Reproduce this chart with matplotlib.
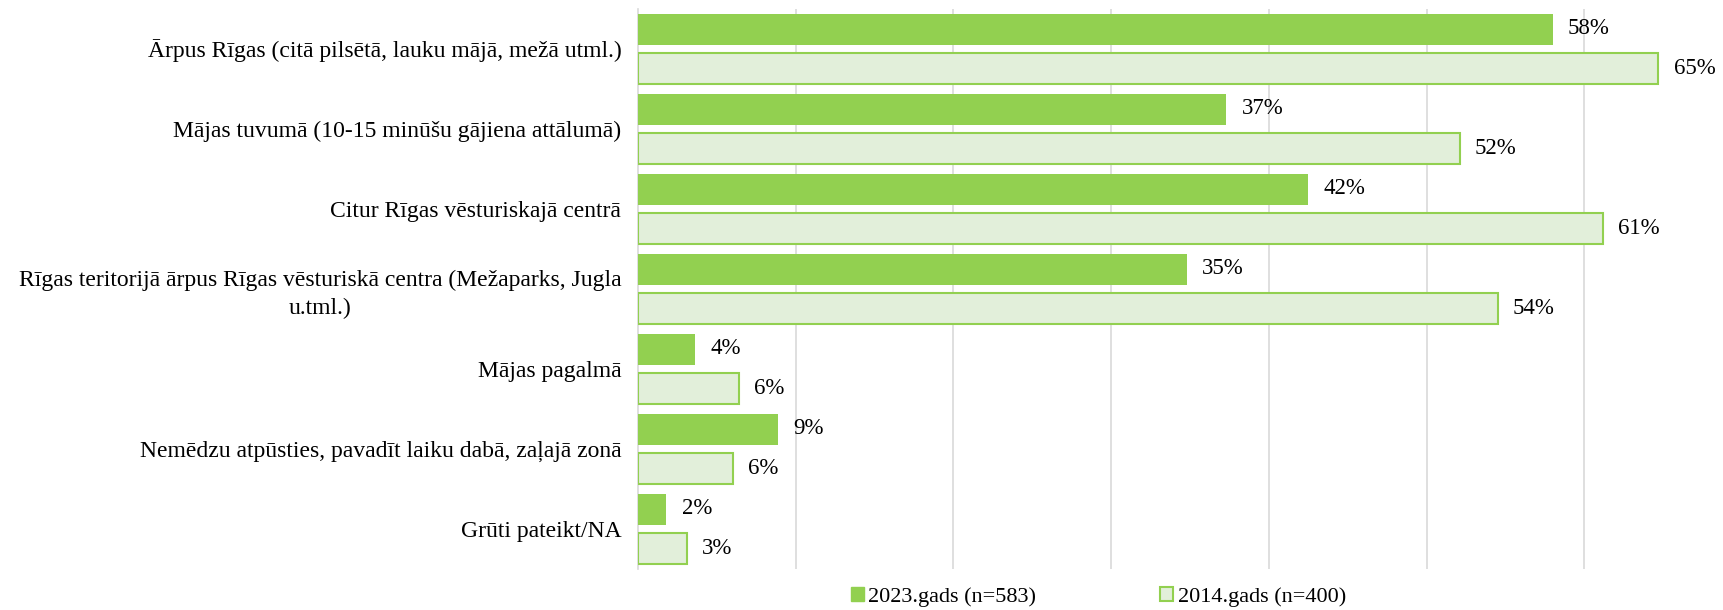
import numpy as np
import matplotlib.pyplot as plt
from matplotlib.patches import Patch

plt.rcParams['font.family'] = ['Liberation Serif', 'DejaVu Serif']

categories = [
    "Ārpus Rīgas (citā pilsētā, lauku mājā, mežā utml.)",
    "Mājas tuvumā (10-15 minūšu gājiena attālumā)",
    "Citur Rīgas vēsturiskajā centrā",
    "Rīgas teritorijā ārpus Rīgas vēsturiskā centra (Mežaparks, Jugla\nu.tml.)",
    "Mājas pagalmā",
    "Nemēdzu atpūsties, pavadīt laiku dabā, zaļajā zonā",
    "Grūti pateikt/NA",
]
vals_2023 = [58.0, 37.3, 42.5, 34.8, 3.6, 8.9, 1.8]
vals_2014 = [64.7, 52.1, 61.2, 54.5, 6.4, 6.0, 3.1]
series_names = ["2023.gads (n=583)", "2014.gads (n=400)"]

green = "#92D050"
light = "#E2EFDA"
grid_c = "#D9D9D9"

W, H = 1724, 610
fig = plt.figure(figsize=(W / 100, H / 100), dpi=100)
x0, x1 = 638, 1742
ytop, ybot = 8.5, 568.5
ax = fig.add_axes([x0 / W, 1 - ybot / H, (x1 - x0) / W, (ybot - ytop) / H])

y = np.arange(len(categories))
bh = 31 / 80
off = 39 / 80 / 2
ax.barh(y - off, vals_2023, height=bh, color=green, zorder=3)
ax.barh(y + off, vals_2014, height=bh, color=light, edgecolor=green, linewidth=1.5, zorder=3)

for yy, v in zip(y - off, vals_2023):
    ax.annotate(f"{round(v)}%", (v, yy), xytext=(11, 0), textcoords="offset points",
                ha="left", va="center", fontsize=16.5)
for yy, v in zip(y + off, vals_2014):
    ax.annotate(f"{round(v)}%", (v, yy), xytext=(11, 0), textcoords="offset points",
                ha="left", va="center", fontsize=16.5)

ax.set_xlim(0, 70)
ax.set_ylim(len(categories) - 0.5, -0.5)
ax.set_xticks(np.arange(10, 71, 10))
ax.set_xticklabels([])
ax.tick_params(axis="x", length=0)
ax.grid(axis="x", color=grid_c, linewidth=1.2, zorder=0)
ax.set_yticks(y)
ax.set_yticklabels(categories, fontsize=17, multialignment="center", linespacing=1.45)
ax.tick_params(axis="y", length=0, pad=12)
for s in ["top", "right", "bottom"]:
    ax.spines[s].set_visible(False)
ax.spines["left"].set_color(grid_c)
ax.spines["left"].set_linewidth(1.2)

handles = [Patch(facecolor=green, edgecolor=green),
           Patch(facecolor=light, edgecolor=green, linewidth=1.5)]
fig.legend(handles, series_names, loc="center", bbox_to_anchor=(0.637, 1 - 597 / H),
           ncol=2, frameon=False, fontsize=16, handlelength=0.6, handleheight=0.6,
           handletextpad=0.2, columnspacing=5.55)

fig.savefig("out.png", dpi=100)
